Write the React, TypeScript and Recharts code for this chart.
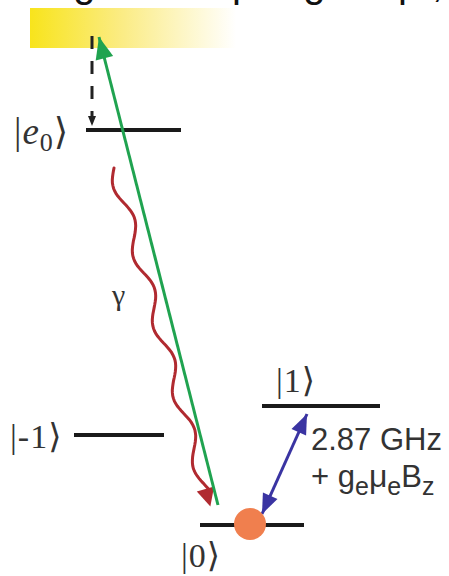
import React from 'react';
import { ComposedChart, XAxis, YAxis, ReferenceLine, ReferenceArea, ReferenceDot } from 'recharts';

const W = 449;
const H = 576;

// energy levels (horizontal extent, height in diagram units)
const levelKeys = ['e0', 'm-1', 'm+1', 'm0'];
const levelY = [130, 435, 406, 525];
const levelX1 = [86, 74, 262, 200];
const levelX2 = [181, 164, 380, 304];

// level labels
const labelKeys = ['e0', 'm-1', 'm+1', 'm0'];
const labelX = [14, 10, 276, 181];
const labelY = [144, 448, 392, 567];
const labelSize = [37, 34, 34, 34];
const labelMain = ['e', '-1', '1', '0'];
const labelSub = ['0', '', '', ''];

// transitions: [from, to]
const pumpPath = [{ x: 218, y: 505 }, { x: 99, y: 37 }];
const decayPath = [{ x: 114, y: 168 }, { x: 206, y: 491 }];
const cascadePath = [{ x: 92, y: 36 }, { x: 92, y: 126 }];
const microwavePath = [{ x: 262, y: 514 }, { x: 307, y: 414 }];

// excitation band
const bandX = [30, 236];
const bandY = [8, 48];

// spin population on |0>
const spinDot = { x: 250, y: 524 };

// cropped caption above the figure
const captionX = [42, 232, 272, 398, 432];
const captionText = ['ing', 'p', 'ing', 'p', ','];

const head = (x1: number, y1: number, x2: number, y2: number, len: number, half: number, color: string) => {
  const d = Math.hypot(x2 - x1, y2 - y1);
  const ux = (x2 - x1) / d;
  const uy = (y2 - y1) / d;
  const bx = x2 - ux * len;
  const by = y2 - uy * len;
  const pts = `${x2},${y2} ${bx - uy * half},${by + ux * half} ${bx + uy * half},${by - ux * half}`;
  return <polygon points={pts} fill={color} />;
};

const PumpArrow = (p: any) => {
  const { x1, y1, x2, y2 } = p;
  return (
    <g>
      <line x1={x1} y1={y1} x2={x2} y2={y2} stroke="#20a350" strokeWidth={3} />
      {head(x1, y1, x2, y2, 22, 9, '#20a350')}
    </g>
  );
};

const MicrowaveArrow = (p: any) => {
  const { x1, y1, x2, y2 } = p;
  return (
    <g>
      <line x1={x1} y1={y1} x2={x2} y2={y2} stroke="#3a34a2" strokeWidth={3} />
      {head(x1, y1, x2, y2, 20, 8, '#3a34a2')}
      {head(x2, y2, x1, y1, 20, 8, '#3a34a2')}
    </g>
  );
};

const CascadeArrow = (p: any) => {
  const { x1, y1, x2, y2 } = p;
  return (
    <g>
      <line x1={x1} y1={y1} x2={x2} y2={y2 - 8} stroke="#222" strokeWidth={3} strokeDasharray="13 12" />
      {head(x1, y1, x2, y2, 10, 4, '#222')}
    </g>
  );
};

const DecayWave = (p: any) => {
  const { x1, y1, x2, y2 } = p;
  const d = Math.hypot(x2 - x1, y2 - y1);
  const ux = (x2 - x1) / d;
  const uy = (y2 - y1) / d;
  const steps = 120;
  const waves = 4.6;
  const amp = 6;
  let path = '';
  for (let i = 0; i <= steps; i++) {
    const t = i / steps;
    const off = amp * Math.sin(2 * Math.PI * waves * t);
    const x = x1 + ux * d * t - uy * off;
    const y = y1 + uy * d * t + ux * off;
    path += `${i === 0 ? 'M' : 'L'}${x.toFixed(1)},${y.toFixed(1)}`;
  }
  return (
    <g>
      <path d={path} fill="none" stroke="#b02a30" strokeWidth={3} strokeLinecap="round" />
      {head(x1, y1, x2 + ux * 16, y2 + uy * 16, 18, 9, '#b02a30')}
    </g>
  );
};

const serif = '"Liberation Serif", "DejaVu Serif", serif';
const sans = '"Liberation Sans", Arial, sans-serif';

const KetLabel = (i: number) => (p: any) => (
  <text x={p.cx} y={p.cy} fontFamily={serif} fontSize={labelSize[i]} fill="#333" letterSpacing={1}>
    <tspan>|</tspan>
    <tspan fontStyle={labelSub[i] ? 'italic' : 'normal'}>{labelMain[i]}</tspan>
    {labelSub[i] ? <tspan fontSize={26} dy={7}>{labelSub[i]}</tspan> : null}
    <tspan dy={labelSub[i] ? -7 : 0}>⟩</tspan>
  </text>
);

export default function App() {
  return (
    <div style={{ position: 'absolute', left: 0, top: 0, width: W, height: H, background: '#fff', overflow: 'hidden' }}>
      <ComposedChart width={W} height={H} margin={{ top: 0, right: 0, bottom: 0, left: 0 }}>
        <defs>
          <linearGradient id="band" x1="0" y1="0" x2="1" y2="0">
            <stop offset="0%" stopColor="#f8e41c" />
            <stop offset="45%" stopColor="#fbec85" />
            <stop offset="100%" stopColor="#ffffff" />
          </linearGradient>
        </defs>
        <XAxis type="number" dataKey="x" domain={[0, W]} hide allowDataOverflow height={0} />
        <YAxis type="number" dataKey="y" domain={[0, H]} reversed hide allowDataOverflow width={0} />
        <ReferenceArea x1={bandX[0]} x2={bandX[1]} y1={bandY[0]} y2={bandY[1]} fill="url(#band)" fillOpacity={1} stroke="none" ifOverflow="visible" />
        {captionText.map((t, i) => (
          <ReferenceDot
            key={'c' + i}
            x={captionX[i]}
            y={bandY[0]}
            ifOverflow="visible"
            shape={(p: any) => (
              <text x={p.cx} y={p.cy - 11} fontFamily={sans} fontSize={40} fill="#111">{t}</text>
            )}
          />
        ))}
        {levelKeys.map((k, i) => (
          <ReferenceLine
            key={k}
            segment={[{ x: levelX1[i], y: levelY[i] }, { x: levelX2[i], y: levelY[i] }]}
            stroke="#1a1a1a"
            strokeWidth={4}
            ifOverflow="visible"
          />
        ))}
        <ReferenceLine segment={cascadePath} ifOverflow="visible" shape={CascadeArrow} />
        <ReferenceLine segment={decayPath} ifOverflow="visible" shape={DecayWave} />
        <ReferenceLine segment={pumpPath} ifOverflow="visible" shape={PumpArrow} />
        <ReferenceLine segment={microwavePath} ifOverflow="visible" shape={MicrowaveArrow} />
        <ReferenceDot x={spinDot.x} y={spinDot.y} r={16} fill="#f07f4e" stroke="none" ifOverflow="visible" />
        {labelKeys.map((k, i) => (
          <ReferenceDot key={'l' + k} x={labelX[i]} y={labelY[i]} ifOverflow="visible" shape={KetLabel(i)} />
        ))}
        <ReferenceDot
          x={112}
          y={305}
          ifOverflow="visible"
          shape={(p: any) => (
            <text x={p.cx} y={p.cy} fontFamily={serif} fontSize={30} fill="#333">γ</text>
          )}
        />
        <ReferenceDot
          x={311}
          y={450}
          ifOverflow="visible"
          shape={(p: any) => (
            <text x={p.cx} y={p.cy} fontFamily={sans} fontSize={31} fill="#333">2.87 GHz</text>
          )}
        />
        <ReferenceDot
          x={311}
          y={487}
          ifOverflow="visible"
          shape={(p: any) => (
            <text x={p.cx} y={p.cy} fontFamily={sans} fontSize={31} fill="#333">
              <tspan>+ g</tspan>
              <tspan fontSize={25} dy={8}>e</tspan>
              <tspan dy={-8} fontSize={32}>μ</tspan>
              <tspan fontSize={25} dy={8}>e</tspan>
              <tspan dy={-8}>B</tspan>
              <tspan fontSize={25} dy={8}>z</tspan>
            </text>
          )}
        />
      </ComposedChart>
    </div>
  );
}
